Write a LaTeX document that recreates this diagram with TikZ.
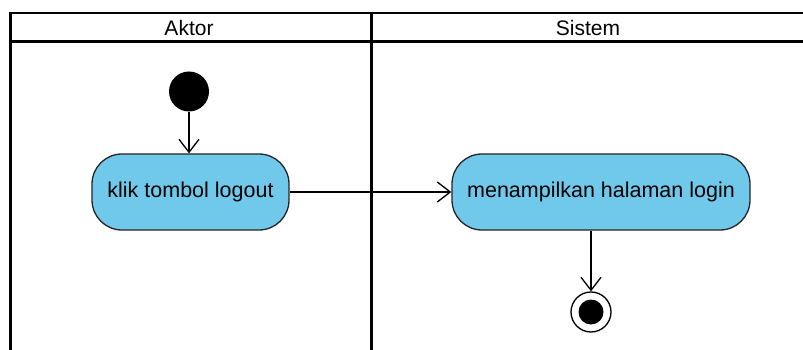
\documentclass[tikz,border=0pt]{standalone}
\usepackage{fontspec}
\setmainfont{Liberation Sans}
\usetikzlibrary{arrows.meta}
\definecolor{actblue}{RGB}{112,200,235}
\begin{document}
\begin{tikzpicture}[x=1pt,y=-1pt,
        act/.style={draw=black!85, line width=1.3pt, fill=actblue, rounded corners=30pt,
          minimum height=76pt, font=\fontsize{21.5}{24}\selectfont},
        flow/.style={line width=1.3pt, -{Straight Barb[length=13pt,width=20pt]}},
        lane/.style={line width=3pt},
        head/.style={font=\fontsize{21}{23}\selectfont}]
        \useasboundingbox (0,0) rectangle (803,350);
        \fill[white] (0,0) rectangle (803,350);
        % swimlanes
        \draw[line width=2pt] (9,13) -- (803,13);
        \draw[lane] (9,42) -- (803,42);
        \draw[lane] (10,12) -- (10,350);
        \draw[lane] (371,12) -- (371,350);
        \node[head] (aktor) at (189,27.5) {Aktor};
        \node[head] (sistem) at (588,27.5) {Sistem};
        % activities
        \node[circle, fill=black, minimum size=40pt, inner sep=0pt] (start) at (189,91.5) {};
        \node[act, minimum width=197pt] (klik) at (190.5,192) {klik tombol logout};
        \node[act, minimum width=298pt] (tampil) at (601,192) {menampilkan halaman login};
        \node[circle, draw, line width=1.3pt, minimum size=40pt, inner sep=0pt] (end) at (591,312) {};
        \node[circle, fill=black, minimum size=25pt, inner sep=0pt] (endin) at (end) {};
        \draw[flow] (start) -- (start |- klik.north);
        \draw[flow] (klik) -- (tampil);
        \draw[flow] (end |- tampil.south) -- (end);
      \end{tikzpicture}
\end{document}
